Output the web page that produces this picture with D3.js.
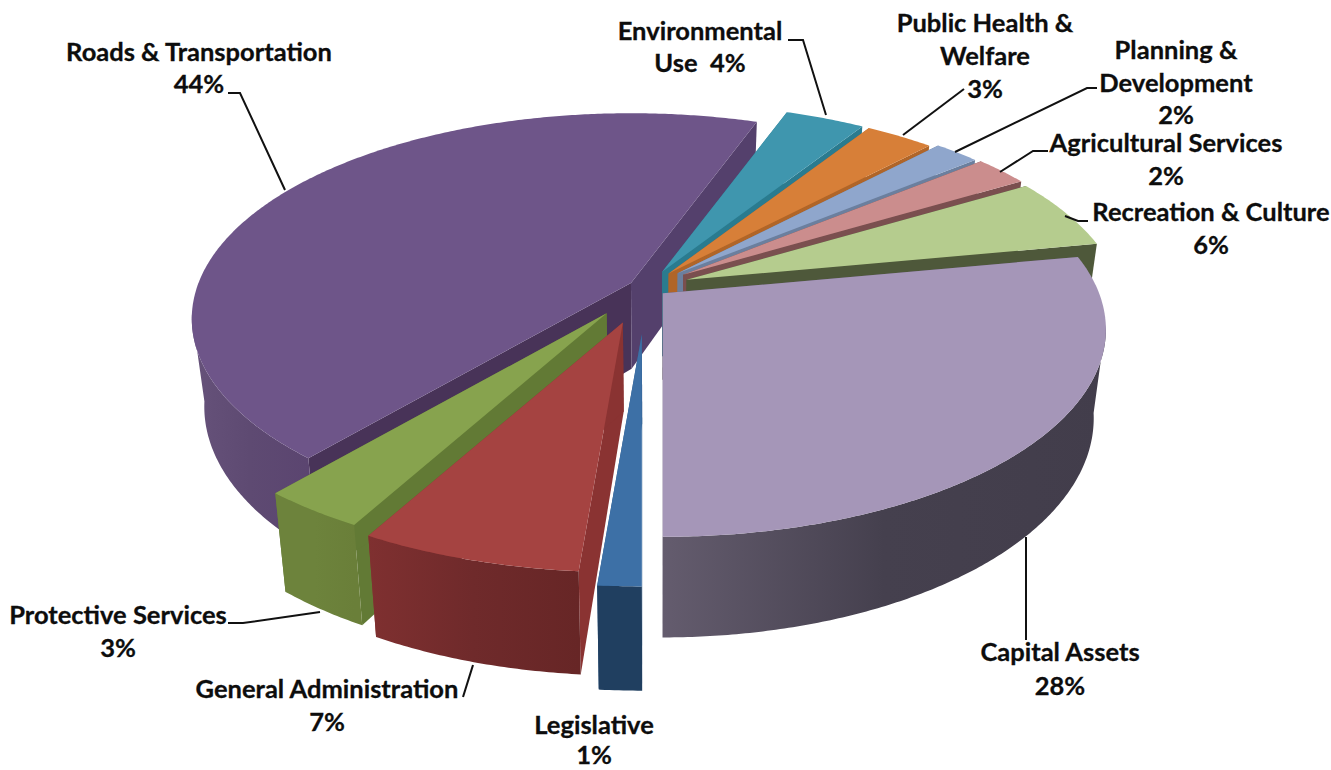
<!DOCTYPE html>
<html lang="en">
<head>
  <meta charset="UTF-8">
  <script src="https://d3js.org/d3.v7.min.js"></script>
  <style>
    body {
      margin: 0;
      background: #ffffff;
    }
    svg {
      display: block;
    }
    .label {
      font-family: Lato, "Open Sans", sans-serif;
      font-weight: 700;
      font-size: 25.5px;
      fill: #0d0d0d;
      stroke: #0d0d0d;
      stroke-width: 0.3px;
      text-anchor: middle;
    }
    .leader {
      fill: none;
      stroke: #111111;
      stroke-width: 2px;
    }
  </style>
</head>
<body>
  <div id="chart"></div>
  <script>
    // clockwise from straight down, underlying shares (labels show them rounded)
    const categories = ["Legislative", "General Administration", "Protective Services", "Roads & Transportation", "Environmental", "Public Health & Welfare", "Planning & Development", "Agricultural Services", "Recreation & Culture", "Capital Assets"];
    const shares = [1.3, 6.7, 3.2, 44.3, 3.5, 3, 2, 2.4, 5.6, 28];

    const topColors = ["#3d70a6", "#a54341", "#87a34e", "#6e5589", "#3f96ae", "#d77f38", "#8fa6cc", "#cb8d8d", "#b5cc8e", "#a596b8"];
    const wallColors = ["#2f5a88", "#8a3332", "#627a35", "#483358", "#2a7b8f", "#b06528", "#6b7f9e", "#7a4f4f", "#4e583a", "#5b5365"];
    const sideColors = [
      ["#203f60", "#203f60", "#203f60"],
      ["#7f3030", "#6f2a2b", "#672626"],
      ["#6d833c", "#6d833c", "#6a7f39"],
      ["#66527a", "#5e4a72", "#5b4570"],
      ["#2a7b8f", "#2a7b8f", "#2a7b8f"],
      ["#b06528", "#b06528", "#b06528"],
      ["#6b7f9e", "#6b7f9e", "#6b7f9e"],
      ["#7a4f4f", "#7a4f4f", "#7a4f4f"],
      ["#4e583a", "#4e583a", "#4e583a"],
      ["#645c6e", "#45404e", "#423d4b"]
    ];

    // how far each slice is pulled out of the pie, as a fraction of the radius
    const explode = [0.235, 0.185, 0.16, 0.04, 0.085, 0.085, 0.1, 0.105, 0.1, 0.05];
    // back to front
    const drawOrder = [3, 4, 5, 6, 7, 8, 2, 1, 0, 9];

    const labelLines = [
      { lines: ["Legislative", "1%"], x: 594, y: 734, dy: 30 },
      { lines: ["General Administration", "7%"], x: 327, y: 698, dy: 33 },
      { lines: ["Protective Services", "3%"], x: 118, y: 624, dy: 33 },
      { lines: ["Roads & Transportation", "44%"], x: 199, y: 61, dy: 32 },
      { lines: ["Environmental", "Use  4%"], x: 700, y: 40, dy: 32 },
      { lines: ["Public Health &", "Welfare", "3%"], x: 985, y: 32, dy: 33 },
      { lines: ["Planning &", "Development", "2%"], x: 1176, y: 59, dy: 32.5 },
      { lines: ["Agricultural Services", "2%"], x: 1166, y: 152, dy: 33 },
      { lines: ["Recreation & Culture", "6%"], x: 1211, y: 221, dy: 33 },
      { lines: ["Capital Assets", "28%"], x: 1060, y: 661, dy: 34 }
    ];

    const leaders = [
      [[473, 665], [463, 697]],
      [[320, 612], [243, 623], [228, 623]],
      [[285, 190], [240, 93], [228, 93]],
      [[826, 115], [803, 40], [788, 40]],
      [[903, 135], [964, 89]],
      [[955, 152], [1087, 88], [1097, 88]],
      [[1000, 172], [1033, 151], [1048, 151]],
      [[1065, 216], [1078, 221], [1088, 221]],
      [[1026, 537], [1026, 640]]
    ];

    const width = 1331;
    const height = 770;

    // fake 3d: ground plane offsets get a simple perspective divide
    const cx = 646, cy = 287;
    const radiusX = 434, radiusY = 200;
    const persp = 0.174;
    const wallHeight = 86;
    const vanishX = 655;

    const svg = d3.select("#chart")
      .append("svg")
      .attr("width", width)
      .attr("height", height)
      .style("background-color", "#ffffff");

    const defs = svg.append("defs");

    const arcs = d3.pie()
      .sort(null)
      .startAngle(Math.PI)
      .endAngle(3 * Math.PI)(shares);

    function sliceGeometry(i) {
      const d = arcs[i];
      const mid = (d.startAngle + d.endAngle) / 2;
      const ex = explode[i] * Math.sin(mid);
      const ey = -explode[i] * Math.cos(mid);
      const apexX = cx + radiusX * ex;
      const apexY = cy + radiusY * ey;
      const s = 1 / (1 - persp * ey);

      const topPoint = (X, Y) => {
        const w = 1 - persp * Y;
        return [apexX + s * radiusX * X / w, apexY + s * radiusY * Y / w];
      };
      const bottomOf = (p, Y) => {
        const h = s * wallHeight / (1 - 0.14 * Y);
        return [p[0] + (vanishX - p[0]) * 0.027, p[1] + h];
      };

      const angles = d3.range(d.startAngle, d.endAngle, Math.PI / 360).concat(d.endAngle);
      const rim = angles.map(a => ({
        a: a,
        Y: -Math.cos(a),
        top: topPoint(Math.sin(a), -Math.cos(a))
      }));
      rim.forEach(r => { r.bottom = bottomOf(r.top, r.Y); });

      const apex = topPoint(0, 0);
      return { apex: apex, apexBottom: bottomOf(apex, 0), rim: rim };
    }

    const line = d3.line();

    drawOrder.forEach(i => {
      const g = sliceGeometry(i);
      const first = g.rim[0];
      const last = g.rim[g.rim.length - 1];
      const group = svg.append("g").attr("class", "slice").attr("data-name", categories[i]);

      // radial walls
      group.append("path")
        .attr("d", line([g.apex, first.top, first.bottom, g.apexBottom]) + "Z")
        .attr("fill", wallColors[i]);
      group.append("path")
        .attr("d", line([g.apex, last.top, last.bottom, g.apexBottom]) + "Z")
        .attr("fill", i === 3 ? "#54406c" : wallColors[i]);

      // outer wall, from the widest point of the rim round the front
      const front = g.rim.filter(r => r.Y >= 0.15);
      if (front.length > 1) {
        const xs = front.map(r => r.top[0]);
        const grad = defs.append("linearGradient")
          .attr("id", "side" + i)
          .attr("gradientUnits", "userSpaceOnUse")
          .attr("x1", d3.min(xs))
          .attr("x2", d3.max(xs))
          .attr("y1", 0)
          .attr("y2", 0);
        sideColors[i].forEach((c, k) => {
          grad.append("stop").attr("offset", k / 2).attr("stop-color", c);
        });
        group.append("path")
          .attr("d", line(front.map(r => r.top).concat(front.map(r => r.bottom).reverse())) + "Z")
          .attr("fill", "url(#side" + i + ")");
      }

      // top face
      group.append("path")
        .attr("d", line([g.apex].concat(g.rim.map(r => r.top))) + "Z")
        .attr("fill", topColors[i]);
    });

    svg.selectAll(".leader")
      .data(leaders)
      .enter().append("path")
      .attr("class", "leader")
      .attr("d", d => line(d));

    labelLines.forEach(l => {
      const text = svg.append("text")
        .attr("class", "label")
        .attr("xml:space", "preserve")
        .style("white-space", "pre");
      l.lines.forEach((t, k) => {
        text.append("tspan")
          .attr("x", l.x)
          .attr("y", l.y + k * l.dy)
          .text(t);
      });
    });
  </script>
</body>
</html>
